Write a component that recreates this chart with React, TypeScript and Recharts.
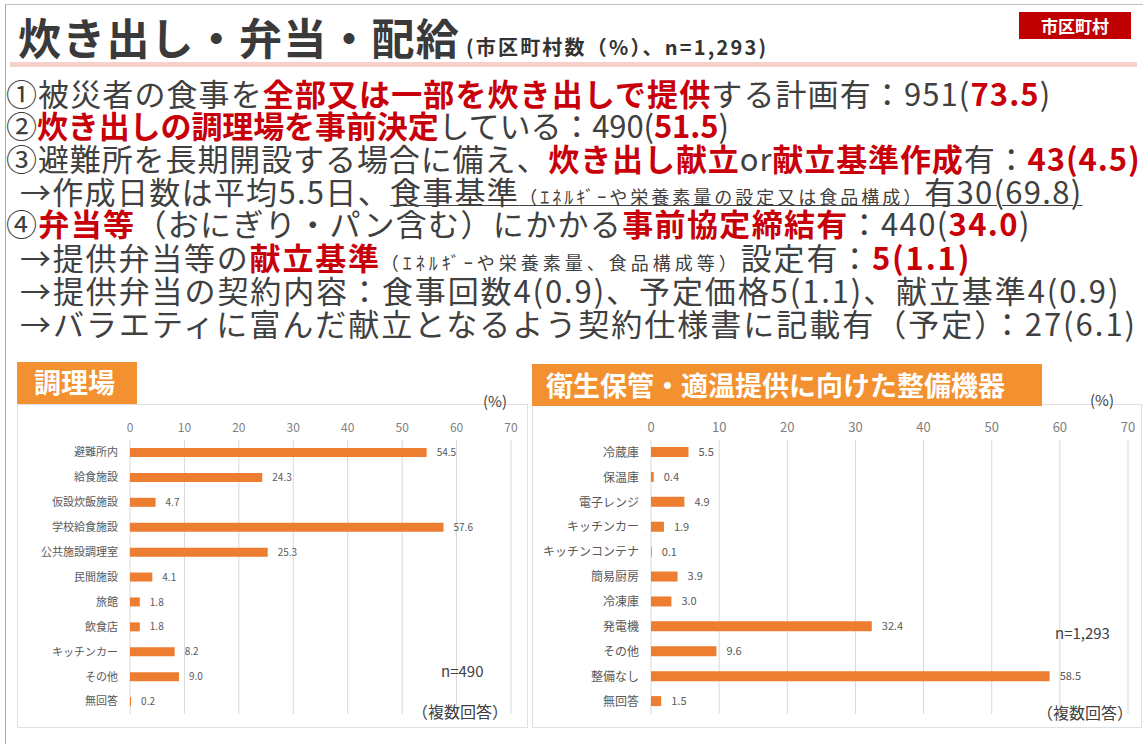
import React from "react";
import { BarChart, Bar, XAxis, YAxis, CartesianGrid, LabelList } from "recharts";

const kitchenCategories = [
  "避難所内",
  "給食施設",
  "仮設炊飯施設",
  "学校給食施設",
  "公共施設調理室",
  "民間施設",
  "旅館",
  "飲食店",
  "キッチンカー",
  "その他",
  "無回答",
];
const kitchenValues = [54.5, 24.3, 4.7, 57.6, 25.3, 4.1, 1.8, 1.8, 8.2, 9.0, 0.2];

const equipmentCategories = [
  "冷蔵庫",
  "保温庫",
  "電子レンジ",
  "キッチンカー",
  "キッチンコンテナ",
  "簡易厨房",
  "冷凍庫",
  "発電機",
  "その他",
  "整備なし",
  "無回答",
];
const equipmentValues = [5.5, 0.4, 4.9, 1.9, 0.1, 3.9, 3.0, 32.4, 9.6, 58.5, 1.5];

const axisTicks = [0, 10, 20, 30, 40, 50, 60, 70];

const FONT = '"Noto Sans CJK JP", "Noto Sans", sans-serif';
const RED = "#c8000a";
const TEXT = "#404040";
const ORANGE = "#ed7d31";
const HEADER = "#f39030";

interface PanelChartProps {
  categories: string[];
  values: number[];
  width: number;
  yWidth: number;
  rightMargin: number;
  tickSize: number;
  catSize: number;
  barSize: number;
}

function PanelChart({ categories, values, width, yWidth, rightMargin, tickSize, catSize, barSize }: PanelChartProps) {
  const data = categories.map((name, i) => ({ name, value: values[i] }));
  return (
    <BarChart
      width={width}
      height={310}
      data={data}
      layout="vertical"
      margin={{ top: 8, right: rightMargin, left: 0, bottom: 8 }}
      barCategoryGap={0}
    >
      <CartesianGrid horizontal={false} stroke="#d9d9d9" />
      <XAxis
        type="number"
        orientation="top"
        domain={[0, 70]}
        ticks={axisTicks}
        axisLine={false}
        tickLine={false}
        height={20}
        tick={{ fontSize: tickSize, fill: "#7f7f7f", fontFamily: FONT }}
      />
      <YAxis
        type="category"
        dataKey="name"
        width={yWidth}
        axisLine={false}
        tickLine={false}
        interval={0}
        tickMargin={6}
        tick={{ fontSize: catSize, fill: "#595959", fontFamily: FONT }}
      />
      <Bar dataKey="value" fill={ORANGE} barSize={barSize} isAnimationActive={false}>
        <LabelList
          dataKey="value"
          position="right"
          offset={10}
          formatter={(v: number) => v.toFixed(1)}
          style={{ fontSize: catSize - 1, fill: "#595959", fontFamily: FONT }}
        />
      </Bar>
    </BarChart>
  );
}

const abs = (left: number, top: number): React.CSSProperties => ({ position: "absolute", left, top });

function Line({
  top,
  left = 6,
  ls = 0.9,
  children,
}: {
  top: number;
  left?: number;
  ls?: number;
  children: React.ReactNode;
}) {
  return (
    <div
      style={{
        ...abs(left, top),
        fontSize: 31,
        letterSpacing: ls,
        lineHeight: "30px",
        color: TEXT,
        whiteSpace: "nowrap",
      }}
    >
      {children}
    </div>
  );
}

const R = ({ children }: { children: React.ReactNode }) => (
  <span style={{ color: RED, fontWeight: 700 }}>{children}</span>
);
const S = ({ children, ls = 3 }: { children: React.ReactNode; ls?: number }) => (
  <span style={{ fontSize: 18, letterSpacing: ls }}>{children}</span>
);

export default function App() {
  return (
    <div
      style={{
        position: "absolute",
        left: 0,
        top: 0,
        width: 1143,
        height: 744,
        background: "#fff",
        fontFamily: FONT,
        overflow: "hidden",
      }}
    >
      <div style={{ ...abs(5, 4), width: 1138, height: 740, borderLeft: "1px solid #a6a6a6", borderTop: "1px solid #bfbfbf" }} />
      <div
        style={{
          ...abs(18, 10),
          fontSize: 43,
          letterSpacing: 1.2,
          fontWeight: 700,
          color: "#3a3a3a",
          lineHeight: "52px",
          whiteSpace: "nowrap",
        }}
      >
        炊き出し・弁当・配給
        <span style={{ fontSize: 20, letterSpacing: 2.2, marginLeft: 6, color: "#333" }}>
          (市区町村数（%）、n=1,293)
        </span>
      </div>
      <div
        style={{
          ...abs(1019, 12),
          width: 112,
          height: 27,
          background: "#c00000",
          color: "#fff",
          fontWeight: 700,
          fontSize: 17,
          lineHeight: "27px",
          textAlign: "center",
        }}
      >
        市区町村
      </div>
      <div style={{ ...abs(10, 62), width: 1127, height: 5, background: "#f7cfcb" }} />

      <Line top={78} ls={1.1}>
        ①被災者の食事を<R>全部又は一部を炊き出しで提供</R>する計画有：951(<R>73.5</R>)
      </Line>
      <Line top={110} ls={-0.1}>
        ②<R>炊き出しの調理場を事前決定</R>している：490(<R>51.5</R>)
      </Line>
      <Line top={143}>
        ③避難所を長期開設する場合に備え、<R>炊き出し献立</R>or<R>献立基準作成</R>有：<R>43(4.5)</R>
      </Line>
      <Line top={176} left={20} ls={1.3}>
        →作成日数は平均5.5日、
        <span style={{ textDecoration: "underline", textDecorationThickness: 1 }}>
          食事基準<S>（ｴﾈﾙｷﾞｰや栄養素量の設定又は食品構成）</S>有30(69.8)
        </span>
      </Line>
      <Line top={208} ls={1.35}>
        ④<R>弁当等</R>（おにぎり・パン含む）にかかる<R>事前協定締結有</R>：440(<R>34.0</R>)
      </Line>
      <Line top={242} left={20} ls={1.8}>
        →提供弁当等の<R>献立基準</R>
        <S ls={4}>（ｴﾈﾙｷﾞｰや栄養素量、食品構成等）</S>設定有：<R>5(1.1)</R>
      </Line>
      <Line top={275} left={20} ls={1.9}>
        →提供弁当の契約内容：食事回数4(0.9)、予定価格5(1.1)、献立基準4(0.9)
      </Line>
      <Line top={308} left={20} ls={2}>
        →バラエティに富んだ献立となるよう契約仕様書に記載有（予定）：27(6.1)
      </Line>

      {/* 調理場 */}
      <div style={{ ...abs(17, 404), width: 509, height: 322, border: "1px solid #e0e0e0" }} />
      <div
        style={{
          ...abs(17, 362),
          width: 120,
          height: 42,
          background: HEADER,
          color: "#fff",
          fontWeight: 700,
          fontSize: 27,
          lineHeight: "40px",
          paddingLeft: 17,
          boxSizing: "border-box",
        }}
      >
        調理場
      </div>
      <div style={{ ...abs(483, 390), fontSize: 15, color: TEXT }}>(%)</div>
      <div style={abs(17, 412)}>
        <PanelChart
          categories={kitchenCategories}
          values={kitchenValues}
          width={510}
          yWidth={113}
          rightMargin={16}
          tickSize={12}
          catSize={11}
          barSize={9}
        />
      </div>
      <div style={{ ...abs(441, 660), fontSize: 15, color: TEXT }}>n=490</div>
      <div style={{ ...abs(412, 699), fontSize: 16, color: TEXT }}>（複数回答）</div>

      {/* 整備機器 */}
      <div style={{ ...abs(532, 404), width: 608, height: 322, border: "1px solid #e0e0e0" }} />
      <div
        style={{
          ...abs(532, 364),
          width: 510,
          height: 42,
          background: HEADER,
          color: "#fff",
          fontWeight: 700,
          fontSize: 27,
          lineHeight: "42px",
          paddingLeft: 14,
          boxSizing: "border-box",
          whiteSpace: "nowrap",
        }}
      >
        衛生保管・適温提供に向けた整備機器
      </div>
      <div style={{ ...abs(1090, 389), fontSize: 15, color: TEXT }}>(%)</div>
      <div style={abs(533, 412)}>
        <PanelChart
          categories={equipmentCategories}
          values={equipmentValues}
          width={607}
          yWidth={118}
          rightMargin={12}
          tickSize={13}
          catSize={12}
          barSize={10}
        />
      </div>
      <div style={{ ...abs(1055, 622), fontSize: 15, color: TEXT }}>n=1,293</div>
      <div style={{ ...abs(1037, 700), fontSize: 16, color: TEXT }}>（複数回答）</div>
    </div>
  );
}
